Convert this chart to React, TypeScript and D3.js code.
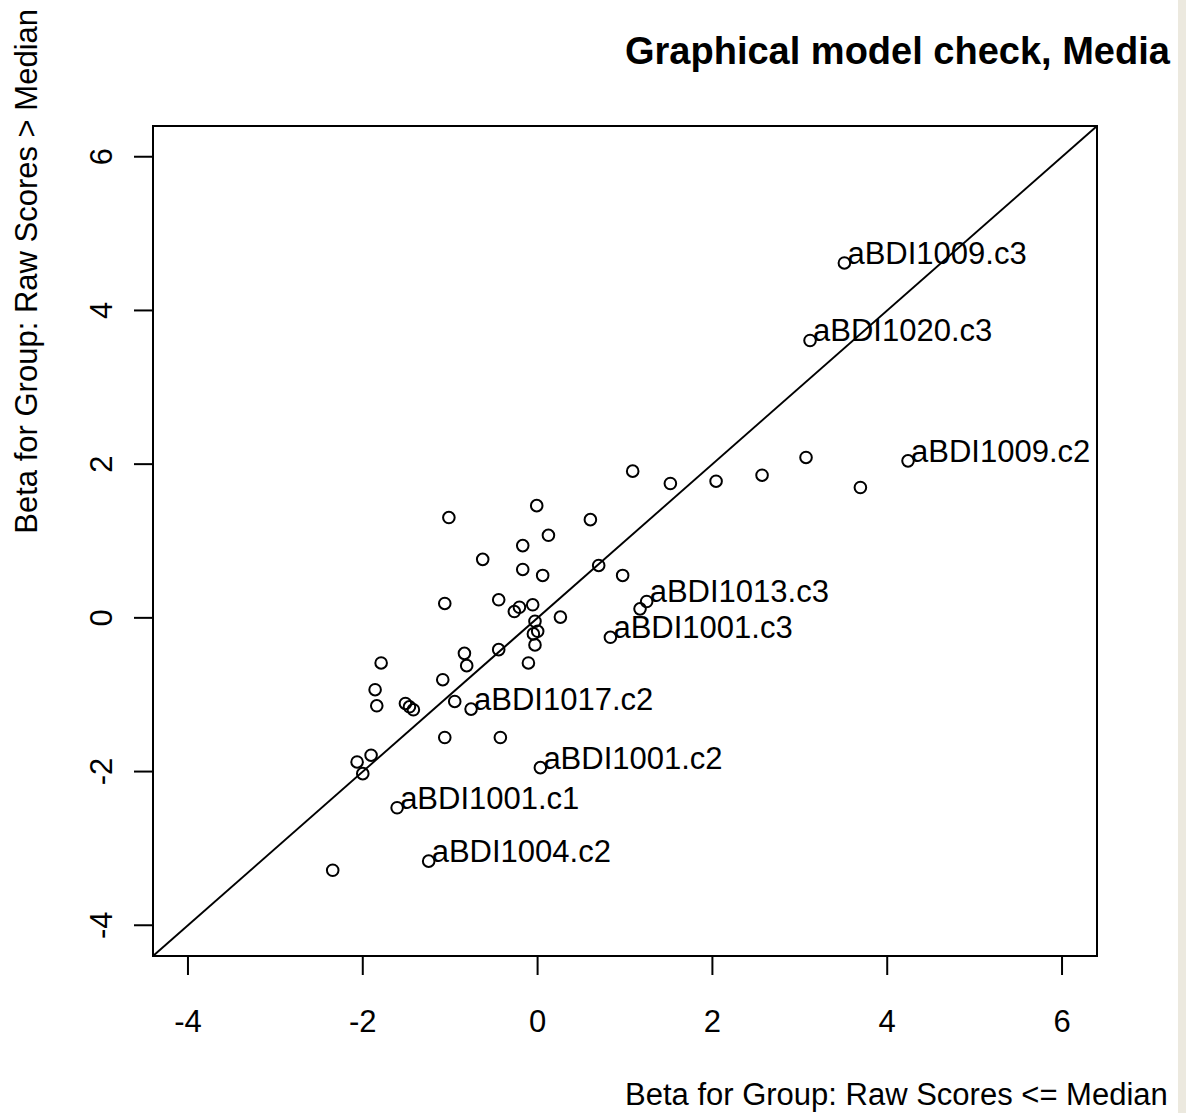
import React from "react";
import * as d3 from "d3";

// Item betas estimated in the two groups (raw score <= median vs > median)
const betaLow: number[] = [
  -1.015, -0.01, 0.604, 0.124, -0.17, -0.628, -0.17, 0.058, 0.699, 0.973,
  1.088, -1.062, -0.445, -0.208, -0.266, -0.056, -0.03, 0.261, 0.001, -0.048,
  -0.03, -0.105, -0.445, -0.837, -0.811, -1.085, -1.79, -1.859, -1.84, -1.512,
  -1.466, -1.421, -0.948, -0.761, -1.062, -0.426, -1.905, -2.065, -2.0, 0.032,
  -1.607, -2.344, -1.246, 1.519, 2.042, 2.568, 3.071, 3.693, 1.248, 1.172,
  0.833, 3.51, 3.117, 4.238,
];
const betaHigh: number[] = [
  1.305, 1.46, 1.278, 1.074, 0.94, 0.761, 0.63, 0.552, 0.682, 0.552,
  1.909, 0.187, 0.235, 0.138, 0.082, 0.17, -0.044, 0.01, -0.175, -0.209,
  -0.352, -0.587, -0.414, -0.462, -0.622, -0.805, -0.587, -0.935, -1.144, -1.114,
  -1.157, -1.196, -1.088, -1.187, -1.557, -1.557, -1.787, -1.875, -2.027, -1.949,
  -2.471, -3.284, -3.166, 1.748, 1.778, 1.856, 2.087, 1.696, 0.213, 0.117,
  -0.253, 4.618, 3.609, 2.043,
];
// Flagged items (index into the arrays above)
const flaggedIdx: number[] = [33, 39, 40, 42, 48, 50, 51, 52, 53];
const flaggedNames: string[] = [
  "aBDI1017.c2", "aBDI1001.c2", "aBDI1001.c1", "aBDI1004.c2", "aBDI1013.c3",
  "aBDI1001.c3", "aBDI1009.c3", "aBDI1020.c3", "aBDI1009.c2",
];
const tickValues: number[] = [-4, -2, 0, 2, 4, 6];
const axisLimits: [number, number] = [-4.4, 6.4];

const W = 1186;
const H = 1113;
const box = { left: 153, right: 1097, top: 126, bottom: 956 };
const FONT = "'Liberation Sans', Arial, Helvetica, sans-serif";

export default function App() {
  const x = d3.scaleLinear().domain(axisLimits).range([box.left, box.right]);
  const y = d3.scaleLinear().domain(axisLimits).range([box.bottom, box.top]);
  const pts = betaLow.map((v, i) => ({ x: v, y: betaHigh[i] }));

  return (
    <svg
      width={W}
      height={H}
      style={{ position: "absolute", left: 0, top: 0, background: "#fff" }}
      fontFamily={FONT}
    >
      <rect x={0} y={0} width={W} height={H} fill="#ffffff" />

      {/* identity line */}
      <line
        x1={x(axisLimits[0])}
        y1={y(axisLimits[0])}
        x2={x(axisLimits[1])}
        y2={y(axisLimits[1])}
        stroke="#000"
        strokeWidth={1.9}
      />

      {pts.map((p, i) => (
        <circle
          key={i}
          cx={x(p.x)}
          cy={y(p.y)}
          r={5.8}
          fill="none"
          stroke="#000"
          strokeWidth={2}
        />
      ))}

      {flaggedIdx.map((idx, k) => (
        <text
          key={k}
          x={x(pts[idx].x) + 3}
          y={y(pts[idx].y) + 1}
          fontSize={31}
          fill="#000"
        >
          {flaggedNames[k]}
        </text>
      ))}

      {/* plot frame */}
      <rect
        x={box.left}
        y={box.top}
        width={box.right - box.left}
        height={box.bottom - box.top}
        fill="none"
        stroke="#000"
        strokeWidth={2}
      />

      {/* x axis */}
      {tickValues.map((t) => (
        <g key={"x" + t}>
          <line x1={x(t)} x2={x(t)} y1={box.bottom} y2={box.bottom + 19} stroke="#000" strokeWidth={2} />
          <text x={x(t)} y={1032} fontSize={31} textAnchor="middle" fill="#000">
            {t}
          </text>
        </g>
      ))}

      {/* y axis */}
      {tickValues.map((t) => (
        <g key={"y" + t}>
          <line x1={box.left} x2={box.left - 19} y1={y(t)} y2={y(t)} stroke="#000" strokeWidth={2} />
          <text
            transform={`translate(112, ${y(t)}) rotate(-90)`}
            fontSize={31}
            textAnchor="middle"
            fill="#000"
          >
            {t}
          </text>
        </g>
      ))}

      <text x={625} y={1105} fontSize={31} fill="#000">
        Beta for Group: Raw Scores &lt;= Median
      </text>
      <text transform="translate(37, 9) rotate(-90)" fontSize={31} textAnchor="end" fill="#000">
        Beta for Group: Raw Scores &gt; Median
      </text>

      <text x={625} y={64} fontSize={38} fontWeight="bold" fill="#000">
        Graphical model check, Media
      </text>

      {/* right margin strip */}
      <rect x={1178} y={0} width={W - 1178} height={H} fill="#ECE9DF" />
    </svg>
  );
}
